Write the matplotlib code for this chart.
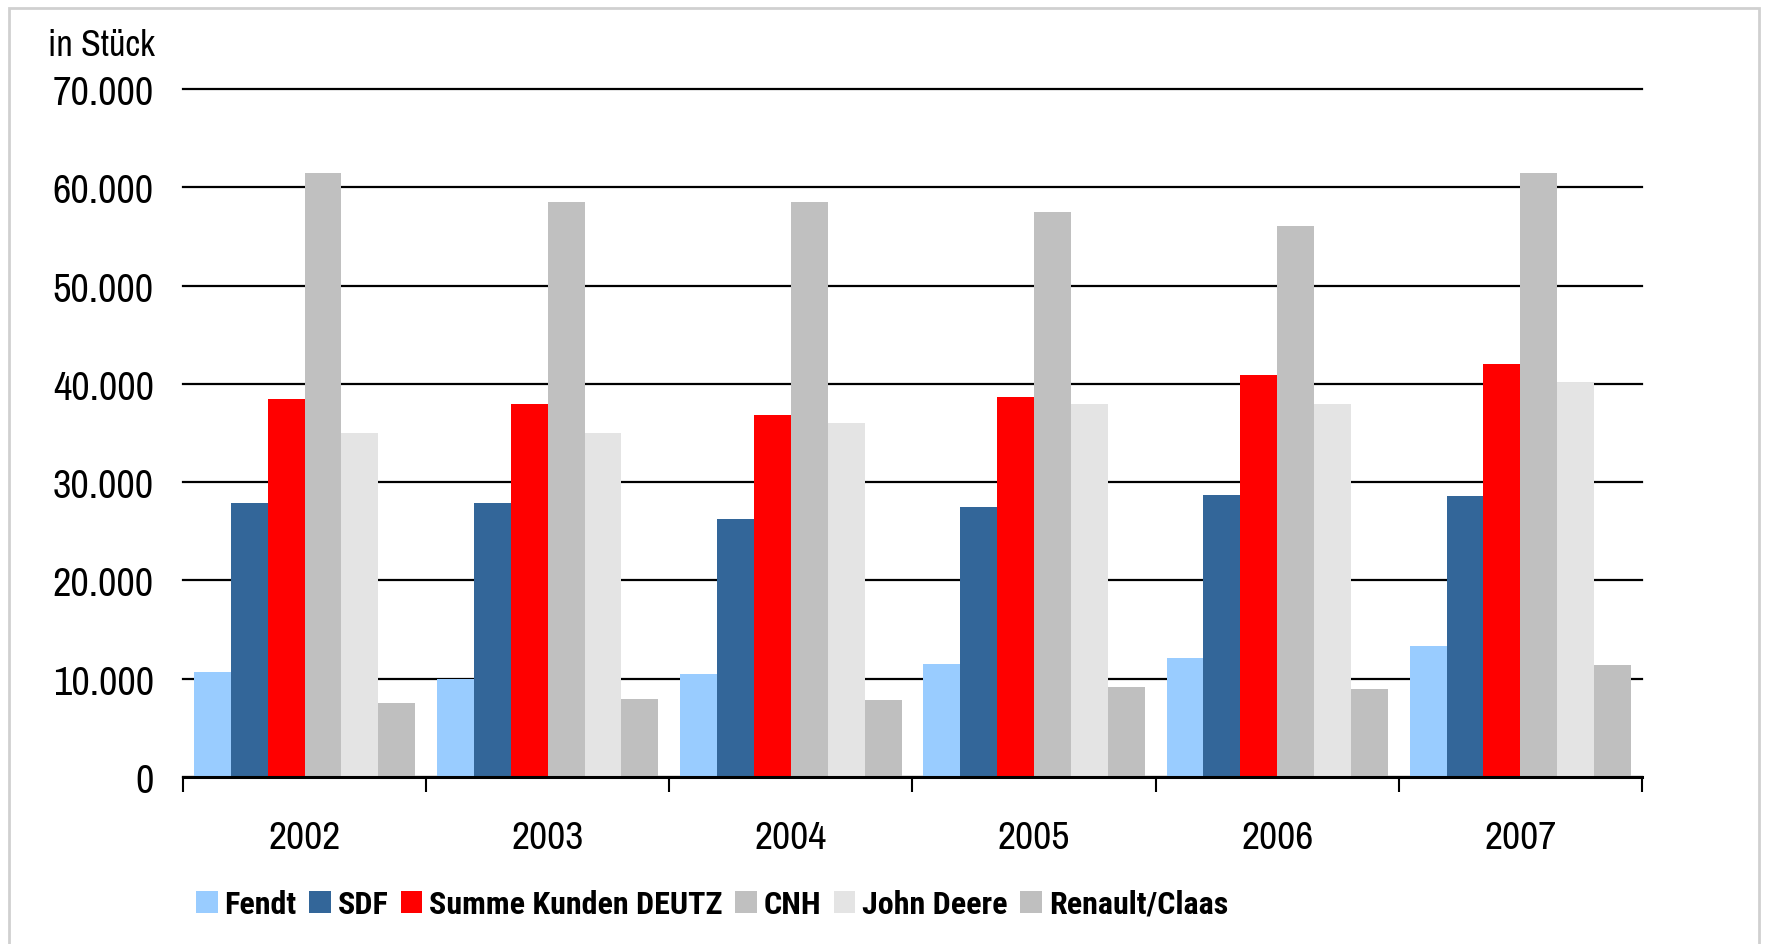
import matplotlib
matplotlib.use("Agg")
import matplotlib.pyplot as plt
import numpy as np
from matplotlib.patches import Rectangle

plt.rcParams['font.family'] = ['Archivo Narrow', 'Liberation Sans', 'DejaVu Sans']

years = ["2002", "2003", "2004", "2005", "2006", "2007"]
series_names = ["Fendt", "SDF", "Summe Kunden DEUTZ", "CNH", "John Deere", "Renault/Claas"]
fendt = [10700, 10000, 10450, 11500, 12150, 13300]
sdf = [27900, 27900, 26300, 27450, 28700, 28550]
deutz = [38450, 37900, 36850, 38700, 40850, 42050]
cnh = [61400, 58450, 58450, 57450, 56050, 61400]
john_deere = [35000, 35000, 36050, 37900, 37900, 40100]
renault_claas = [7550, 7900, 7800, 9200, 8950, 11350]
colors = ["#99CCFF", "#336699", "#FF0000", "#C0C0C0", "#E4E4E4", "#BFBFBF"]

fig = plt.figure(figsize=(17.68, 9.45), dpi=100)
ax = fig.add_axes([0.1035, 0.1767, 0.8252, 0.7281])

all_series = [fendt, sdf, deutz, cnh, john_deere, renault_claas]
n = len(all_series)
group_w = 0.91
bw = group_w / n
x = np.arange(len(years)) + 0.5
for i, (vals, name, c) in enumerate(zip(all_series, series_names, colors)):
    ax.bar(x - group_w / 2 + bw * (i + 0.5), vals, width=bw, color=c, label=name, zorder=3)

ax.set_xlim(0, len(years))
ax.set_ylim(0, 70000)
ax.set_yticks(np.arange(0, 70001, 10000))
ax.set_yticklabels(["0" if v == 0 else f"{v // 1000}.000" for v in range(0, 70001, 10000)])
ax.yaxis.grid(True, color="black", linewidth=1.6, zorder=0)
ax.set_axisbelow(True)
for gl in ax.yaxis.get_gridlines():
    gl.set_clip_on(False)

ax.set_xticks(np.arange(0, len(years) + 1))
ax.set_xticklabels([])
ax.set_xticks(x, minor=True)
ax.set_xticklabels(years, minor=True)
ax.tick_params(axis="x", which="major", length=11, width=1.5, direction="out", color="black")
ax.tick_params(axis="x", which="minor", length=0, pad=31, labelsize=28.5)
ax.tick_params(axis="y", length=0, pad=21, labelsize=29)

for s in ["left", "right", "top"]:
    ax.spines[s].set_visible(False)
ax.spines["bottom"].set_linewidth(2.2)
ax.spines["bottom"].set_zorder(4)

fig.text(48 / 1768, 1 - 45 / 945, "in Stück", fontsize=26, va="center", ha="left")

leg = fig.legend(loc="center left", bbox_to_anchor=(183 / 1768, 1 - 905 / 945), ncol=6,
                 frameon=False, prop={"family": ["Roboto Condensed", "Archivo Narrow"],
                                      "size": 23, "weight": "bold"},
                 handlelength=0.68, handleheight=0.7,
                 handletextpad=0.22, columnspacing=0.38, borderaxespad=0)

fig.patches.append(Rectangle((9 / 1768, -0.02), 1750 / 1768, 1.02 - 9 / 945,
                             transform=fig.transFigure, fill=False,
                             edgecolor="#D0D0D0", linewidth=2))

fig.savefig("out.png", dpi=100)
